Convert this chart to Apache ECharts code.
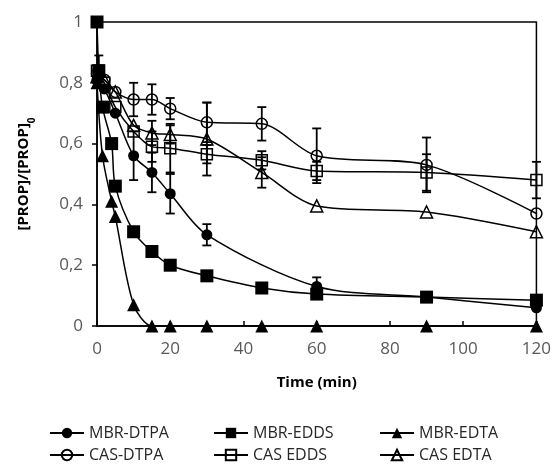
<!DOCTYPE html>
<html>
<head>
<meta charset="utf-8">
<script src="https://cdn.jsdelivr.net/npm/echarts@6/dist/echarts.min.js"></script>
<style>
  html, body { margin: 0; padding: 0; background: #fff; }
  #chart { width: 554px; height: 466px; }
</style>
</head>
<body>
<div id="chart"></div>
<script>
// time (min) / [PROP]/[PROP]0 / error half-width
const mbrDtpaT = [0, 2, 5, 10, 15, 20, 30, 60, 90, 120]
const mbrDtpaV = [0.81, 0.78, 0.70, 0.56, 0.505, 0.435, 0.30, 0.13, 0.095, 0.06]
const mbrDtpaErr = [0, 0, 0, 0.08, 0.065, 0.065, 0.035, 0.03, 0, 0]

const mbrEddsT = [0, 0.5, 1.5, 4, 5, 10, 15, 20, 30, 45, 60, 90, 120]
const mbrEddsV = [1, 0.84, 0.72, 0.60, 0.46, 0.31, 0.245, 0.20, 0.165, 0.125, 0.105, 0.095, 0.085]
const mbrEddsErr = [0, 0.05, 0, 0, 0, 0, 0, 0, 0, 0, 0, 0, 0]

const mbrEdtaT = [0, 1.5, 4, 5, 10, 15, 20, 30, 45, 60, 90, 120]
const mbrEdtaV = [0.80, 0.56, 0.41, 0.36, 0.07, 0, 0, 0, 0, 0, 0, 0]
const mbrEdtaErr = [0, 0, 0, 0, 0, 0, 0, 0, 0, 0, 0, 0]

const casT = [0, 2, 5, 10, 15, 20, 30, 45, 60, 90, 120]
const casDtpaV = [0.83, 0.81, 0.77, 0.745, 0.745, 0.715, 0.67, 0.665, 0.56, 0.53, 0.37]
const casDtpaErr = [0, 0, 0, 0.055, 0.05, 0.035, 0.065, 0.055, 0.09, 0.09, 0]
const casEddsV = [0.84, 0.80, 0.72, 0.64, 0.59, 0.585, 0.565, 0.545, 0.51, 0.505, 0.48]
const casEddsErr = [0, 0, 0, 0, 0.05, 0.08, 0.03, 0.03, 0.03, 0.06, 0.06]
const casEdtaV = [0.82, 0.81, 0.77, 0.66, 0.635, 0.63, 0.615, 0.505, 0.395, 0.375, 0.31]
const casEdtaErr = [0, 0, 0, 0, 0.04, 0.03, 0.12, 0.05, 0, 0, 0]

// legend: two rows of three
const legendNames = ['MBR-DTPA', 'MBR-EDDS', 'MBR-EDTA', 'CAS-DTPA', 'CAS EDDS', 'CAS EDTA']

const chart = echarts.init(document.getElementById('chart'))

function pairs (t, v) {
  return t.map((x, i) => [x, v[i]])
}

function lineSeries (name, t, v, symbol, size, filled) {
  return {
    name: name,
    type: 'line',
    data: pairs(t, v),
    smooth: 0.3,
    symbol: symbol,
    symbolSize: size,
    lineStyle: { color: '#000', width: 1.5 },
    itemStyle: filled
      ? { color: '#000', borderColor: '#000', borderWidth: 0 }
      : { color: 'rgba(255,255,255,0)', borderColor: '#000', borderWidth: 1.5 },
    emphasis: { disabled: true },
    z: 3
  }
}

function renderErr (params, api) {
  const x = api.value(0)
  const top = api.coord([x, api.value(2)])
  const bot = api.coord([x, api.value(1)])
  const w = 4.5
  const st = { stroke: '#000', lineWidth: 1.8 }
  return {
    type: 'group',
    children: [
      { type: 'line', shape: { x1: top[0], y1: top[1], x2: bot[0], y2: bot[1] }, style: st },
      { type: 'line', shape: { x1: top[0] - w, y1: top[1], x2: top[0] + w, y2: top[1] }, style: st },
      { type: 'line', shape: { x1: bot[0] - w, y1: bot[1], x2: bot[0] + w, y2: bot[1] }, style: st }
    ]
  }
}

function errSeries (t, v, e) {
  const data = []
  t.forEach((x, i) => {
    if (e[i] > 0) data.push([x, v[i] - e[i], v[i] + e[i]])
  })
  return {
    type: 'custom',
    renderItem: renderErr,
    encode: { x: 0, y: [1, 2] },
    data: data,
    silent: true,
    z: 4
  }
}

const fontFam = 'Open Sans'

chart.setOption({
  animation: false,
  backgroundColor: '#fff',
  textStyle: { fontFamily: fontFam },
  grid: {
    left: 97,
    right: 15,
    top: 22,
    bottom: 140,
    show: true,
    borderColor: '#000',
    borderWidth: 1.5,
    backgroundColor: 'transparent'
  },
  xAxis: {
    type: 'value',
    min: 0,
    max: 120,
    interval: 20,
    name: 'Time (min)',
    nameLocation: 'middle',
    nameGap: 49,
    nameTextStyle: { fontFamily: fontFam, fontWeight: 'bold', fontSize: 15, color: '#000' },
    axisLine: { lineStyle: { color: '#000', width: 1.5 } },
    axisTick: { inside: true, length: 5, lineStyle: { color: '#000', width: 1.5 } },
    axisLabel: { margin: 15, fontSize: 17, color: '#595959', fontFamily: fontFam },
    splitLine: { show: false }
  },
  yAxis: {
    type: 'value',
    min: 0,
    max: 1,
    interval: 0.2,
    name: '{a|[PROP]/[PROP]}{b|0}',
    nameLocation: 'middle',
    nameGap: 63,
    nameRotate: 90,
    nameTextStyle: {
      rich: {
        a: { fontFamily: fontFam, fontWeight: 'bold', fontSize: 15, color: '#000', lineHeight: 20, verticalAlign: 'middle' },
        b: { fontFamily: fontFam, fontWeight: 'bold', fontSize: 10, color: '#000', lineHeight: 20, verticalAlign: 'bottom', padding: [0, 0, -3, 0] }
      }
    },
    axisLine: { show: true, lineStyle: { color: '#000', width: 1.5 } },
    axisTick: { show: true, length: 5, lineStyle: { color: '#000', width: 1.5 } },
    axisLabel: {
      margin: 14,
      fontSize: 17,
      color: '#595959',
      fontFamily: fontFam,
      formatter: v => String(Math.round(v * 10) / 10).replace('.', ',')
    },
    splitLine: { show: false }
  },
  legend: legendNames.map((name, i) => ({
    data: [name],
    left: [49, 213, 379][i % 3],
    top: i < 3 ? 425 : 447,
    padding: 0,
    itemWidth: 34,
    itemHeight: 13,
    textStyle: { fontFamily: fontFam, fontSize: 16, color: '#262626' },
    selectedMode: false
  })),
  series: [
    lineSeries('MBR-DTPA', mbrDtpaT, mbrDtpaV, 'circle', 11, true),
    lineSeries('MBR-EDDS', mbrEddsT, mbrEddsV, 'rect', 13, true),
    lineSeries('MBR-EDTA', mbrEdtaT, mbrEdtaV, 'triangle', 13, true),
    lineSeries('CAS-DTPA', casT, casDtpaV, 'circle', 11, false),
    lineSeries('CAS EDDS', casT, casEddsV, 'rect', 11, false),
    lineSeries('CAS EDTA', casT, casEdtaV, 'triangle', 12, false),
    errSeries(mbrDtpaT, mbrDtpaV, mbrDtpaErr),
    errSeries(mbrEddsT, mbrEddsV, mbrEddsErr),
    errSeries(mbrEdtaT, mbrEdtaV, mbrEdtaErr),
    errSeries(casT, casDtpaV, casDtpaErr),
    errSeries(casT, casEddsV, casEddsErr),
    errSeries(casT, casEdtaV, casEdtaErr)
  ]
})
</script>
</body>
</html>
